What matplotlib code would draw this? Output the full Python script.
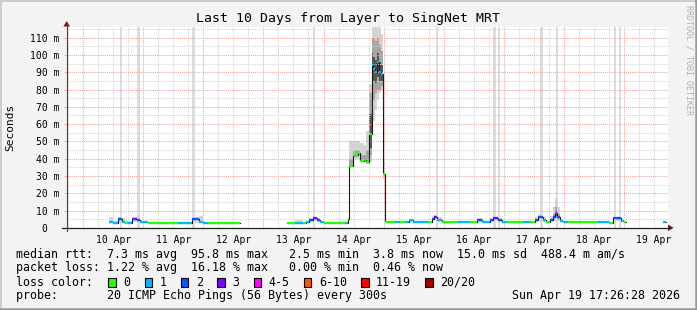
import matplotlib
matplotlib.use('Agg')
import matplotlib.pyplot as plt
import numpy as np
from matplotlib.lines import Line2D
from matplotlib.patches import Polygon, Rectangle
from datetime import datetime, timedelta

nan = float('nan')

# ---------------- data ----------------
TITLE = "Last 10 Days from Layer to SingNet MRT"
END_TIME = datetime(2026, 4, 19, 17, 26, 28)
SPAN_DAYS = 10

# segment start times (hours after graph start), median rtt (ms) and lost pings (of 20)
t_hours = [16.9, 18.5, 20.5, 21.9, 23.2, 24.5, 26.1, 26.9, 28.1, 29.2, 32.5, 44.5, 49.9, 52.8, 54.5, 56.5, 69.2,
           88.0, 91.2, 94.4, 95.6, 96.8, 98.4, 100.0, 101.2, 102.8, 111.2, 112.4,
           112.8, 114.3, 116.4, 117.2, 118.8, 119.6, 120.8, 121.9, 122.5, 123.2, 124.0, 124.8, 125.6, 126.5,
           127.0, 131.2, 133.2, 135.2, 136.8, 138.4, 144.4, 146.0, 146.8, 148.0, 150.0, 156.4, 161.2,
           164.0, 166.0, 169.2, 170.4, 172.4, 174.0, 176.0, 182.4, 185.2, 187.2, 188.4, 190.4, 191.6,
           192.8, 194.0, 194.8, 195.7, 196.8, 198.0, 200.0, 212.0, 216.4, 218.0, 221.2, 222.4, 223.2,
           238.0, 239.2]
median_ms = [3.3, 2.7, 5.0, 3.3, 2.7, 2.9, 5.0, 5.0, 4.5, 3.1, 2.7, 2.7, 5.0, 3.5, 2.7, 2.7, nan,
             2.5, 3.0, 3.0, 3.5, 4.5, 5.5, 4.5, 3.3, 2.5, 2.5, 5.2,
             36, 42, 43, 38.5, 39, 38, 54, 94, 92, 90, 96, 90, 89, 31,
             3.1, 3.1, 3.1, 3.1, 4.6, 3.4, 3.1, 5.0, 6.0, 4.6, 3.1, 3.1, 3.1,
             4.5, 3.3, 4.5, 5.6, 4.7, 3.3, 3.1, 3.1, 3.1, 4.5, 6.0, 4.5, 3.2,
             4.5, 6.0, 8.5, 6.0, 4.0, 3.3, 3.3, 3.3, 2.7, 5.5, 4.0, 3.3, nan,
             3.5, nan]
loss_pings = [1, 1, 2, 1, 0, 1, 2, 3, 2, 1, 0, 1, 2, 1, 1, 0, 0,
              0, 1, 0, 1, 2, 3, 2, 1, 0, 1, 0,
              0, 0, 0, 0, 0, 0, 0, 1, 1, 1, 1, 1, 1, 0,
              0, 1, 0, 1, 1, 1, 0, 2, 3, 1, 0, 1, 0,
              2, 1, 2, 3, 2, 1, 0, 1, 0, 2, 2, 1, 0,
              2, 2, 4, 2, 1, 1, 0, 1, 0, 2, 1, 0, 0,
              1, 0]
# smoke (spread of the 20 pings), outer band
smoke_lo_ms = [2.5, 2.5, 3.0, 3.0, 2.5, 2.5, 3.5, 3.5, 3.0, 2.7, 2.7, 2.5, 3.0, 3.0, 2.7, 2.7, nan,
               2.5, 2.8, 3.0, 3.0, 3.5, 4.0, 3.5, 3.0, 2.5, 2.5, 5.2,
               36, 40, 40, 38, 38, 37, 38, 62, 62, 68, 74, 78, 80, 28,
               3.1, 3.1, 3.1, 3.1, 3.5, 3.1, 3.1, 4.0, 4.5, 3.5, 3.1, 3.1, 3.1,
               3.5, 3.1, 3.5, 4.0, 3.5, 3.1, 3.1, 3.1, 3.1, 3.5, 4.0, 3.5, 3.1,
               3.5, 4.0, 4.0, 4.0, 3.5, 3.1, 3.3, 3.3, 2.7, 4.0, 3.5, 3.3, nan,
               3.5, nan]
smoke_hi_ms = [6.0, 4.0, 6.0, 5.5, 4.5, 4.0, 6.5, 6.5, 7.0, 4.0, 2.7, 3.5, 6.0, 7.0, 3.2, 2.7, nan,
               2.5, 4.5, 3.0, 4.0, 5.5, 6.5, 5.5, 3.5, 2.5, 2.5, 5.2,
               50, 50, 50, 49, 48, 56, 83, 116, 116, 116, 116, 116, 112, 40,
               3.1, 3.5, 3.1, 3.5, 5.2, 4.0, 3.1, 6.5, 7.5, 6.0, 3.1, 3.5, 3.1,
               5.5, 3.8, 5.5, 6.5, 5.5, 3.5, 3.1, 3.5, 4.0, 6.0, 8.0, 6.0, 3.5,
               7.0, 12, 17, 12, 5.0, 3.5, 3.3, 3.8, 2.7, 6.5, 5.0, 3.3, nan,
               3.5, nan]
# denser part of the smoke
core_t0 = [112.8, 114.3, 116.4, 117.2, 118.8, 119.6, 120.8, 121.9, 122.5, 123.2, 124.0, 124.8, 125.6, 194.0, 194.8, 195.7]
core_t1 = [114.3, 116.4, 117.2, 118.8, 119.6, 120.8, 121.9, 122.5, 123.2, 124.0, 124.8, 125.6, 126.5, 194.8, 195.7, 196.8]
core_lo_ms = [36, 41, 42, 38, 38, 38, 42, 74, 74, 78, 80, 80, 82, 5.0, 6.0, 5.0]
core_hi_ms = [40, 45, 45, 42, 42, 45, 78, 110, 110, 108, 110, 106, 102, 8.0, 12.0, 8.0]
# densest part, right around the median
dense_t0 = [120.8, 121.9, 122.5, 123.2, 124.0, 124.8, 125.6, 194.8]
dense_t1 = [121.9, 122.5, 123.2, 124.0, 124.8, 125.6, 126.5, 195.7]
dense_lo_ms = [46, 85, 85, 84, 87, 85, 85, 7.0]
dense_hi_ms = [66, 101, 99, 97, 101, 96, 94, 10.0]
# full-height grey marks
loss_bar_hours = [21.7, 28.7, 50.7, 98.7, 147.8, 170.8, 172.7, 189.7, 195.7, 218.9, 220.9]

y_major_ms = [0, 10, 20, 30, 40, 50, 60, 70, 80, 90, 100, 110]
y_tick_labels = ["0  ", "10 m", "20 m", "30 m", "40 m", "50 m", "60 m", "70 m", "80 m", "90 m", "100 m", "110 m"]
Y_MAX = 116

loss_labels = ['0', '1', '2', '3', '4-5', '6-10', '11-19', '20/20']
loss_colors = ['#26ff00', '#00b8ff', '#0059ff', '#7e00ff', '#ff00ff', '#ff5500', '#ff0000', '#a10000']

rtt_avg, rtt_max, rtt_min, rtt_now, rtt_sd, rtt_ams = 7.3, 95.8, 2.5, 3.8, 15.0, 488.4
loss_avg, loss_max, loss_min, loss_now = 1.22, 16.18, 0.00, 0.46
probe_text = "20 ICMP Echo Pings (56 Bytes) every 300s"
stamp_text = "Sun Apr 19 17:26:28 2026"

# ---------------- drawing ----------------
W, H = 697, 310
MONO = 'DejaVu Sans Mono'
plt.rcParams['font.family'] = MONO

def fx(x):
    return x / W

def fy(y):
    return 1 - y / H

L, R, T, B = 66.7, 667.7, 27.3, 227.8
fig = plt.figure(figsize=(W / 100, H / 100), dpi=100, facecolor='#f3f3f3')
ax = fig.add_axes([fx(L), fy(B), (R - L) / W, (B - T) / H])
ax.set_facecolor('white')
total_h = SPAN_DAYS * 24
ax.set_xlim(0, total_h)
ax.set_ylim(0, Y_MAX)
for s in ax.spines.values():
    s.set_visible(False)

start = END_TIME - timedelta(days=SPAN_DAYS)
first_mid = datetime(start.year, start.month, start.day) + timedelta(days=1)
off0 = (first_mid - start).total_seconds() / 3600.0

# loss bars
for c in loss_bar_hours:
    ax.axvspan(c - 0.5, c + 0.5, color='#dcdcdc', lw=0, zorder=0.5)

t = np.array(t_hours)
m = np.array(median_ms, dtype=float)
lo = np.array(smoke_lo_ms, dtype=float)
hi = np.array(smoke_hi_ms, dtype=float)

# smoke
for i in range(len(t) - 1):
    if np.isnan(m[i]):
        continue
    if hi[i] > lo[i]:
        ax.fill_between([t[i], t[i + 1]], [lo[i]] * 2, [hi[i]] * 2, color='#d4d4d4', lw=0, zorder=1)
for a, b, l, h in zip(core_t0, core_t1, core_lo_ms, core_hi_ms):
    ax.fill_between([a, b], [l, l], [h, h], color='#a6a6a6', lw=0, zorder=1.1)
for a, b, l, h in zip(dense_t0, dense_t1, dense_lo_ms, dense_hi_ms):
    ax.fill_between([a, b], [l, l], [h, h], color='#555555', lw=0, zorder=1.2)

# grid
GRID_MAJ = '#f4a3a3'
GRID_MIN = '#d4d4d4'
dots = (0, (1, 1))
h = off0 - 24
while h < total_h:
    for k in range(4):
        x = h + 6 * k
        if 0 < x < total_h:
            ax.axvline(x, color=GRID_MAJ if k == 0 else GRID_MIN, lw=0.75, ls=dots, zorder=2)
    h += 24
for v in range(5, Y_MAX, 10):
    ax.axhline(v, color=GRID_MIN, lw=0.75, ls=dots, zorder=2)
for v in y_major_ms[1:]:
    ax.axhline(v, color=GRID_MAJ, lw=0.75, ls=dots, zorder=2)

# median line
ax.step(t, m, where='post', color='#1a1a1a', lw=0.8, zorder=3)
bins = [0, 1, 2, 3, 4, 4, 5, 5, 5, 5, 5, 6, 6, 6, 6, 6, 6, 6, 6, 6, 7]
for i in range(len(t) - 1):
    if np.isnan(m[i]):
        continue
    ax.plot([t[i], t[i + 1]], [m[i], m[i]], color=loss_colors[bins[loss_pings[i]]],
            lw=1.6, solid_capstyle='butt', zorder=4)

# ticks
ax.set_yticks(y_major_ms)
ax.set_yticklabels(y_tick_labels, fontsize=7.0, family=MONO)
ax.tick_params(axis='y', length=2.2, width=0.7, color=GRID_MAJ, pad=3.2)
noons = [off0 + 12 + 24 * k for k in range(SPAN_DAYS)]
labels = ['%d %s' % ((first_mid + timedelta(days=k)).day, (first_mid + timedelta(days=k)).strftime('%b'))
          for k in range(SPAN_DAYS)]
ax.set_xticks(noons)
ax.set_xticklabels(labels, fontsize=7.0, family=MONO)
ax.tick_params(axis='x', length=0, pad=5.2)

# axes lines and arrows
fig.add_artist(Line2D([fx(62), fx(670)], [fy(B + 0.3), fy(B + 0.3)], color='#222222', lw=0.9))
fig.add_artist(Line2D([fx(L), fx(L)], [fy(B + 3), fy(24)], color='#444444', lw=0.8))
fig.add_artist(Polygon([[fx(L - 3.3), fy(26.5)], [fx(L + 3.3), fy(26.5)], [fx(L), fy(21)]],
                       closed=True, color='#8b1010', lw=0))
fig.add_artist(Polygon([[fx(668), fy(B - 3.3)], [fx(668), fy(B + 3.3)], [fx(673.5), fy(B)]],
                       closed=True, color='#8b1010', lw=0))

# texts
fig.text(fx(347.6), fy(18.5), TITLE, ha='center', va='center', fontsize=9.55, family=MONO)
fig.text(fx(10), fy(127.5), 'Seconds', ha='center', va='center', rotation=90, fontsize=8.0, family=MONO)
fig.text(fx(688.5), fy(60), 'RRDTOOL / TOBI OETIKER', ha='center', va='center', rotation=270,
         fontsize=6.0, family=MONO, color='#b0b0b0')

FS = 8.37
line1 = "median rtt:  %.1f ms avg  %.1f ms max   %.1f ms min  %.1f ms now  %.1f ms sd  %.1f m am/s" % (
    rtt_avg, rtt_max, rtt_min, rtt_now, rtt_sd, rtt_ams)
line2 = "packet loss: %.2f %% avg  %.2f %% max   %.2f %% min  %.2f %% now" % (
    loss_avg, loss_max, loss_min, loss_now)
fig.text(fx(16), fy(254.3), line1, ha='left', va='center', fontsize=FS, family=MONO)
fig.text(fx(16), fy(268.0), line2, ha='left', va='center', fontsize=FS, family=MONO)
fig.text(fx(16), fy(282.3), "loss color:", ha='left', va='center', fontsize=FS, family=MONO)
fig.text(fx(16), fy(296.0), "probe:       " + probe_text, ha='left', va='center', fontsize=FS, family=MONO)
fig.text(fx(680), fy(296.0), stamp_text, ha='right', va='center', fontsize=FS, family=MONO)

CH = 7.0
xb = 108.3
for lab, col in zip(loss_labels, loss_colors):
    fig.add_artist(Rectangle((fx(xb), fy(286.5)), 7.5 / W, 8.5 / H, facecolor=col,
                             edgecolor='black', lw=0.8))
    fig.text(fx(xb + 15), fy(282.3), lab, ha='left', va='center', fontsize=FS, family=MONO)
    xb = xb + 15 + CH * len(lab) + 14.3

# frame
fig.add_artist(Line2D([0, 1], [fy(0.7), fy(0.7)], color='#cbcbcb', lw=1.4))
fig.add_artist(Line2D([fx(0.7), fx(0.7)], [0, 1], color='#cbcbcb', lw=1.4))
fig.add_artist(Line2D([0, 1], [fy(H - 1.2), fy(H - 1.2)], color='#999999', lw=1.8))
fig.add_artist(Line2D([fx(W - 1.2), fx(W - 1.2)], [0, 1], color='#999999', lw=1.8))

fig.savefig('out.png', dpi=100, facecolor=fig.get_facecolor())
